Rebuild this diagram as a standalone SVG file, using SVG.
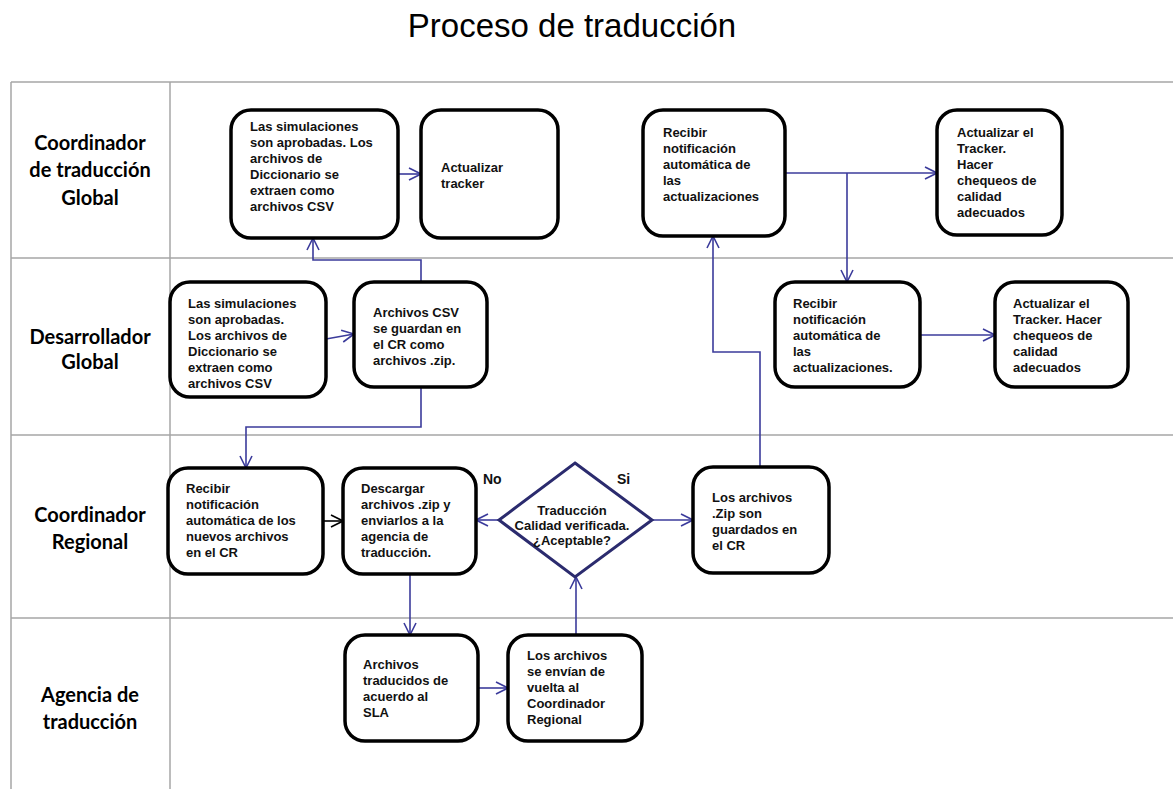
<svg xmlns="http://www.w3.org/2000/svg" width="1173" height="789" viewBox="0 0 1173 789">
<style>
.lane{stroke:#a6a6a6;stroke-width:1.5;fill:none}
.box{fill:#fff;stroke:#000;stroke-width:3.5}
.t{font-family:"Liberation Sans",Arial,sans-serif;font-weight:bold;font-size:13px;fill:#111}
.lbl{font-family:Lato,"Liberation Sans",sans-serif;font-weight:bold;font-size:20px;fill:#000;text-anchor:middle}
.c{fill:none;stroke:#3b3b9b;stroke-width:1.6}
</style>
<defs>
<marker id="ah" viewBox="0 0 14 14" refX="13" refY="7" markerWidth="14" markerHeight="14" markerUnits="userSpaceOnUse" orient="auto">
<path d="M1,1 L13,7 L1,13" fill="none" stroke="#3b3b9b" stroke-width="1.6"/>
</marker>
<marker id="ahk" viewBox="0 0 14 14" refX="13" refY="7" markerWidth="14" markerHeight="14" markerUnits="userSpaceOnUse" orient="auto">
<path d="M1,1 L13,7 L1,13" fill="none" stroke="#000" stroke-width="1.6"/>
</marker>
</defs>
<rect width="1173" height="789" fill="#fff"/>
<text x="572" y="37" font-family="Liberation Sans,Arial,sans-serif" font-size="33" text-anchor="middle" fill="#000">Proceso de traducción</text>
<g id="lanes">
<path class="lane" d="M11,82 H1173 M11,258 H1173 M11,435 H1173 M11,618 H1173 M11,82 V789 M170,82 V789"/>
<text class="lbl"><tspan x="90" y="150">Coordinador</tspan><tspan x="90" y="177">de traducción</tspan><tspan x="90" y="205">Global</tspan></text>
<text class="lbl"><tspan x="90" y="344">Desarrollador</tspan><tspan x="90" y="369">Global</tspan></text>
<text class="lbl"><tspan x="90" y="522">Coordinador</tspan><tspan x="90" y="549">Regional</tspan></text>
<text class="lbl"><tspan x="90" y="702">Agencia de</tspan><tspan x="90" y="729">traducción</tspan></text>
</g>
<g id="connectors">
<path class="c" d="M398,174 H421" marker-end="url(#ah)"/>
<path class="c" d="M785,173 H937" marker-end="url(#ah)"/>
<path class="c" d="M847,173 V282" marker-end="url(#ah)"/>
<path class="c" d="M920,335 H995" marker-end="url(#ah)"/>
<path class="c" d="M326,339 L354,334" marker-end="url(#ah)"/>
<path class="c" d="M421,282 V260 H313 V238" marker-end="url(#ah)"/>
<path class="c" d="M421,387 V427 H246 V468" marker-end="url(#ah)"/>
<path class="c" d="M323,521 H343" stroke="#000" style="stroke:#000" marker-end="url(#ahk)"/>
<path class="c" d="M499,520 H476" marker-end="url(#ah)"/>
<path class="c" d="M652,520 H693" marker-end="url(#ah)"/>
<path class="c" d="M410,574 V635" marker-end="url(#ah)"/>
<path class="c" d="M478,688 H508" marker-end="url(#ah)"/>
<path class="c" d="M576,635 V577" marker-end="url(#ah)"/>
<path class="c" d="M760,467 V352 H713 V236" marker-end="url(#ah)"/>
</g>
<g id="n1">
<rect class="box" x="231" y="110" width="167" height="128" rx="20"/>
<text class="t"><tspan x="250" y="131">Las simulaciones</tspan><tspan x="250" y="147">son aprobadas. Los</tspan><tspan x="250" y="163">archivos de</tspan><tspan x="250" y="179">Diccionario se</tspan><tspan x="250" y="195">extraen como</tspan><tspan x="250" y="211">archivos CSV</tspan></text>
</g>
<g id="n2">
<rect class="box" x="421" y="110" width="137" height="128" rx="20"/>
<text class="t"><tspan x="441" y="172">Actualizar</tspan><tspan x="441" y="188">tracker</tspan></text>
</g>
<g id="n3">
<rect class="box" x="643" y="110" width="142" height="126" rx="20"/>
<text class="t"><tspan x="663" y="137">Recibir</tspan><tspan x="663" y="153">notificación</tspan><tspan x="663" y="169">automática de</tspan><tspan x="663" y="185">las</tspan><tspan x="663" y="201">actualizaciones</tspan></text>
</g>
<g id="n4">
<rect class="box" x="937" y="110" width="125" height="125" rx="20"/>
<text class="t"><tspan x="957" y="137">Actualizar el</tspan><tspan x="957" y="153">Tracker.</tspan><tspan x="957" y="169">Hacer</tspan><tspan x="957" y="185">chequeos de</tspan><tspan x="957" y="201">calidad</tspan><tspan x="957" y="217">adecuados</tspan></text>
</g>
<g id="n5">
<rect class="box" x="775" y="282" width="145" height="105" rx="20"/>
<text class="t"><tspan x="793" y="308">Recibir</tspan><tspan x="793" y="324">notificación</tspan><tspan x="793" y="340">automática de</tspan><tspan x="793" y="356">las</tspan><tspan x="793" y="372">actualizaciones.</tspan></text>
</g>
<g id="n6">
<rect class="box" x="995" y="282" width="133" height="105" rx="20"/>
<text class="t"><tspan x="1013" y="308">Actualizar el</tspan><tspan x="1013" y="324">Tracker. Hacer</tspan><tspan x="1013" y="340">chequeos de</tspan><tspan x="1013" y="356">calidad</tspan><tspan x="1013" y="372">adecuados</tspan></text>
</g>
<g id="n7">
<rect class="box" x="170" y="282" width="156" height="115" rx="20"/>
<text class="t"><tspan x="188" y="308">Las simulaciones</tspan><tspan x="188" y="324">son aprobadas.</tspan><tspan x="188" y="340">Los archivos de</tspan><tspan x="188" y="356">Diccionario se</tspan><tspan x="188" y="372">extraen como</tspan><tspan x="188" y="388">archivos CSV</tspan></text>
</g>
<g id="n8">
<rect class="box" x="354" y="282" width="133" height="105" rx="20"/>
<text class="t"><tspan x="373" y="317">Archivos CSV</tspan><tspan x="373" y="333">se guardan en</tspan><tspan x="373" y="349">el CR como</tspan><tspan x="373" y="365">archivos  .zip.</tspan></text>
</g>
<g id="n9">
<rect class="box" x="168" y="468" width="155" height="106" rx="20"/>
<text class="t"><tspan x="186" y="493">Recibir</tspan><tspan x="186" y="509">notificación</tspan><tspan x="186" y="525">automática de los</tspan><tspan x="186" y="541">nuevos archivos</tspan><tspan x="186" y="557">en el CR</tspan></text>
</g>
<g id="n10">
<rect class="box" x="343" y="468" width="133" height="106" rx="20"/>
<text class="t"><tspan x="361" y="493">Descargar</tspan><tspan x="361" y="509">archivos .zip y</tspan><tspan x="361" y="525">enviarlos a la</tspan><tspan x="361" y="541">agencia de</tspan><tspan x="361" y="557">traducción.</tspan></text>
</g>
<g id="n11">
<polygon points="575,463 652,520 575,577 499,520" fill="#fff" stroke="#2b2b6e" stroke-width="3"/>
<text class="t" text-anchor="middle"><tspan x="572" y="515">Traducción</tspan><tspan x="572" y="530">Calidad verificada.</tspan><tspan x="572" y="545">¿Aceptable?</tspan></text>
<text class="t" x="483" y="484" font-size="14" style="font-size:14px">No</text>
<text class="t" x="617" y="484" style="font-size:14px">Si</text>
</g>
<g id="n12">
<rect class="box" x="693" y="467" width="136" height="106" rx="20"/>
<text class="t"><tspan x="712" y="502">Los archivos</tspan><tspan x="712" y="518">.Zip son</tspan><tspan x="712" y="534">guardados en</tspan><tspan x="712" y="550">el CR</tspan></text>
</g>
<g id="n13">
<rect class="box" x="345" y="635" width="133" height="106" rx="20"/>
<text class="t"><tspan x="363" y="669">Archivos</tspan><tspan x="363" y="685">traducidos de</tspan><tspan x="363" y="701">acuerdo al</tspan><tspan x="363" y="717">SLA</tspan></text>
</g>
<g id="n14">
<rect class="box" x="508" y="635" width="134" height="106" rx="20"/>
<text class="t"><tspan x="527" y="660">Los archivos</tspan><tspan x="527" y="676">se envían de</tspan><tspan x="527" y="692">vuelta al</tspan><tspan x="527" y="708">Coordinador</tspan><tspan x="527" y="724">Regional</tspan></text>
</g>
</svg>
